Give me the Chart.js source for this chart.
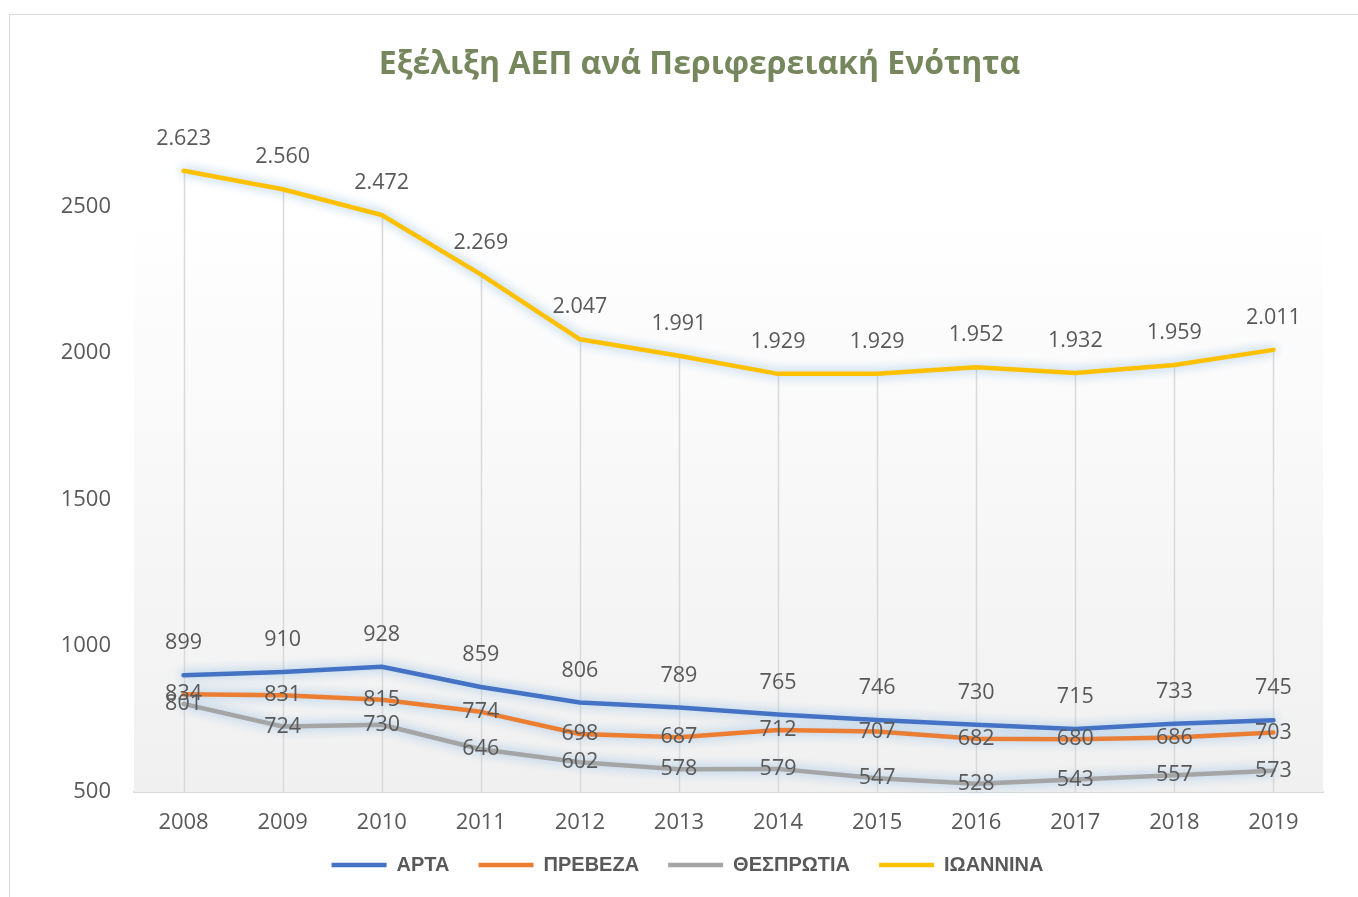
<!DOCTYPE html>
<html>
<head>
<meta charset="utf-8">
<script src="https://cdn.jsdelivr.net/npm/chart.js@4"></script>
<style>
  html, body { margin: 0; padding: 0; background: #fff; overflow: hidden; }
  #wrap { position: absolute; left: 0; top: 0; width: 1358px; height: 897px; }
  #frame { position: absolute; left: 9px; top: 14px; width: 1400px; height: 950px;
           border-left: 1px solid #d9d9d9; border-top: 1px solid #d9d9d9; pointer-events: none; }
</style>
</head>
<body>
<div id="wrap"><canvas id="chart" width="1358" height="897"></canvas></div>
<div id="frame"></div>
<script>
// τιμές ΑΕΠ ανά Περιφερειακή Ενότητα
const years = ['2008', '2009', '2010', '2011', '2012', '2013', '2014', '2015', '2016', '2017', '2018', '2019'];
const arta = [899, 910, 928, 859, 806, 789, 765, 746, 730, 715, 733, 745];
const preveza = [834, 831, 815, 774, 698, 687, 712, 707, 682, 680, 686, 703];
const thesprotia = [801, 724, 730, 646, 602, 578, 579, 547, 528, 543, 557, 573];
const ioannina = [2623, 2560, 2472, 2269, 2047, 1991, 1929, 1929, 1952, 1932, 1959, 2011];
const yTicks = [500, 1000, 1500, 2000, 2500];

const TEXT = '#595959';
const FONT = "'Open Sans', 'DejaVu Sans', sans-serif";
const LEGEND_FONT = "'Liberation Sans Narrow', 'Arial Narrow', sans-serif";

// 1.234 -> ελληνική μορφή
function fmt(v) {
    return String(v).replace(/\B(?=(\d{3})+(?!\d))/g, '.');
}

// φόντο περιοχής σχεδίασης + γραμμές πτώσης
const plotBg = {
    id: 'plotBg',
    beforeDatasetsDraw(chart) {
        const { ctx, chartArea, scales } = chart;
        const top = scales.y.getPixelForValue(yTicks[yTicks.length - 1]);
        const g = ctx.createLinearGradient(0, top, 0, chartArea.bottom);
        g.addColorStop(0, '#ffffff');
        g.addColorStop(1, '#f0f0f0');
        ctx.save();
        ctx.fillStyle = g;
        ctx.fillRect(chartArea.left, top, chartArea.right - chartArea.left, chartArea.bottom - top);

        // drop lines από τη ψηλότερη σειρά
        const meta = chart.getDatasetMeta(3);
        ctx.strokeStyle = '#d9d9d9';
        ctx.lineWidth = 1.5;
        meta.data.forEach(p => {
            ctx.beginPath();
            ctx.moveTo(Math.round(p.x) + 0.5, p.y);
            ctx.lineTo(Math.round(p.x) + 0.5, chartArea.bottom);
            ctx.stroke();
        });
        ctx.restore();
    }
};

// λάμψη γύρω από τις γραμμές
const glow = {
    id: 'glow',
    beforeDatasetDraw(chart) {
        const ctx = chart.ctx;
        ctx.save();
        ctx.shadowColor = 'rgba(140, 185, 228, 0.95)';
        ctx.shadowBlur = 11;
    },
    afterDatasetDraw(chart) {
        chart.ctx.restore();
    }
};

// ετικέτες τιμών
const valueLabels = {
    id: 'valueLabels',
    afterDatasetsDraw(chart) {
        const ctx = chart.ctx;
        ctx.save();
        ctx.font = '21.5px ' + FONT;
        ctx.fillStyle = TEXT;
        ctx.textAlign = 'center';
        ctx.textBaseline = 'middle';
        chart.data.datasets.forEach((ds, i) => {
            const meta = chart.getDatasetMeta(i);
            meta.data.forEach((p, j) => {
                const dy = ds.labelPos === 'above' ? -32 : 0;
                ctx.fillText(fmt(ds.data[j]), p.x, p.y + dy);
            });
        });
        ctx.restore();
    }
};

// μικρές μετατοπίσεις τίτλου / υπομνήματος όπως στο πρωτότυπο
const nudge = {
    id: 'nudge',
    afterLayout(chart) {
        const t = chart.titleBlock;
        if (t) { t.left += 38; t.right += 38; }
        const l = chart.legend;
        if (l) { l.top -= 12; l.bottom -= 12; l.left += 26; l.right += 26; }
    }
};

function line(label, data, color, labelPos) {
    return {
        label: label,
        data: data,
        borderColor: color,
        backgroundColor: color,
        borderWidth: 4.5,
        borderCapStyle: 'round',
        borderJoinStyle: 'round',
        pointRadius: 0,
        pointHoverRadius: 0,
        tension: 0,
        clip: false,
        labelPos: labelPos
    };
}

function draw() {
    const ctx = document.getElementById('chart').getContext('2d');
    new Chart(ctx, {
        type: 'line',
        data: {
            labels: years,
            datasets: [
                line('ΑΡΤΑ', arta, '#4472c4', 'above'),
                line('ΠΡΕΒΕΖΑ', preveza, '#ed7d31', 'center'),
                line('ΘΕΣΠΡΩΤΙΑ', thesprotia, '#a5a5a5', 'center'),
                line('ΙΩΑΝΝΙΝΑ', ioannina, '#ffc000', 'above')
            ]
        },
        options: {
            responsive: false,
            animation: false,
            layout: { padding: { left: 0, right: 35, top: 0, bottom: 0 } },
            plugins: {
                title: {
                    display: true,
                    text: 'Εξέλιξη ΑΕΠ ανά Περιφερειακή Ενότητα',
                    color: '#77875d',
                    font: { family: FONT, size: 32, weight: 'bold' },
                    padding: { top: 46, bottom: 34.6 }
                },
                legend: {
                    position: 'bottom',
                    labels: {
                        usePointStyle: true,
                        pointStyle: 'line',
                        pointStyleWidth: 55,
                        padding: 29,
                        color: TEXT,
                        font: { family: LEGEND_FONT, size: 20, weight: 'bold' }
                    }
                },
                tooltip: { enabled: false }
            },
            scales: {
                x: {
                    offset: true,
                    grid: { display: false, drawTicks: false },
                    border: { display: true, color: '#d9d9d9', width: 2 },
                    ticks: { color: TEXT, font: { family: FONT, size: 22 }, padding: 18 },
                    afterFit(s) { s.height = 46; }
                },
                y: {
                    min: 500,
                    max: 2800,
                    grid: { display: false, drawTicks: false },
                    border: { display: false },
                    ticks: {
                        stepSize: 500,
                        includeBounds: false,
                        color: TEXT,
                        font: { family: FONT, size: 22 },
                        padding: 23,
                        callback: v => String(v)
                    },
                    afterBuildTicks(s) { s.ticks = yTicks.map(v => ({ value: v })); },
                    afterFit(s) { s.width = 134; }
                }
            }
        },
        plugins: [plotBg, glow, valueLabels, nudge]
    });
}

Promise.all([
    document.fonts.load("22px 'Open Sans'"),
    document.fonts.load("bold 32px 'Open Sans'"),
    document.fonts.load("bold 20px 'Liberation Sans Narrow'")
]).then(draw, draw);
</script>
</body>
</html>
